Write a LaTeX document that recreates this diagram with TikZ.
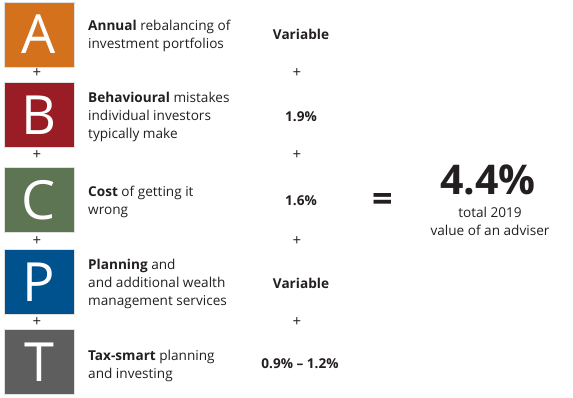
\documentclass[tikz,border=0pt]{standalone}
\usepackage{fontspec}
\setmainfont{Open Sans}
\definecolor{txt}{HTML}{231F20}
\definecolor{cA}{HTML}{D4711C}
\definecolor{cB}{HTML}{9A1D25}
\definecolor{cC}{HTML}{5E7553}
\definecolor{cP}{HTML}{00528F}
\definecolor{cT}{HTML}{5E5E5F}
\begin{document}
\begin{tikzpicture}[x=1pt,y=-1pt,
  letterbox/.style={minimum width=70pt,minimum height=65pt,inner sep=0pt,
    draw=black!12,line width=0.5pt,text=white,
    font=\fontsize{54}{54}\selectfont},
  desc/.style={anchor=west,align=left,inner sep=0pt,text=txt,
    font=\fontsize{13.6}{18}\selectfont},
  val/.style={inner sep=0pt,text=txt,font=\fontsize{13.6}{14}\selectfont\bfseries},
  plus/.style={inner sep=0pt,text=txt,font=\fontsize{15}{15}\selectfont}]
\useasboundingbox (0,0) rectangle (573,397);
% letter boxes
\node[letterbox,fill=cA] (A) at (39,34.5) {A};
\node[letterbox,fill=cB] (B) at (39,115) {B};
\node[letterbox,fill=cC] (C) at (39,200) {C};
\node[letterbox,fill=cP] (P) at (39,282) {P};
\node[letterbox,fill=cT] (T) at (39,362) {T};
% plus signs between boxes
\node[plus] (pl1) at (37,73) {+};
\node[plus] (pl2) at (37,155) {+};
\node[plus] (pl3) at (37,241) {+};
\node[plus] (pl4) at (37,322) {+};
% descriptions
\node[desc] (dA) at (88,36) {\textbf{Annual} rebalancing of\\investment portfolios};
\node[desc] (dB) at (88,117) {\textbf{Behavioural} mistakes\\individual investors\\typically make};
\node[desc] (dC) at (88,202) {\textbf{Cost} of getting it\\wrong};
\node[desc] (dP) at (88,284) {\textbf{Planning} and\\and additional wealth\\management services};
\node[desc] (dT) at (88,366) {\textbf{Tax-smart} planning\\and investing};
% values
\node[val] (vA) at (301,34) {Variable};
\node[plus] (vp1) at (297,73) {+};
\node[val] (vB) at (301,117) {1.9\%};
\node[plus] (vp2) at (297,155) {+};
\node[val] (vC) at (301,201) {1.6\%};
\node[plus] (vp3) at (297,241) {+};
\node[val] (vP) at (301,283) {Variable};
\node[plus] (vp4) at (297,322) {+};
\node[val] (vT) at (300,364) {0.9\% -- 1.2\%};
% total
\node[inner sep=0pt,text=txt,font=\fontsize{36}{36}\selectfont\bfseries] (eq) at (383,202) {=};
\node[inner sep=0pt,text=txt,font=\fontsize{41}{41}\selectfont\bfseries] (tot) at (488,180) {4.4\%};
\node[inner sep=0pt,text=txt,align=center,font=\fontsize{13.6}{18}\selectfont] (lab) at (490,221) {total 2019\\value of an adviser};
\end{tikzpicture}
\end{document}
